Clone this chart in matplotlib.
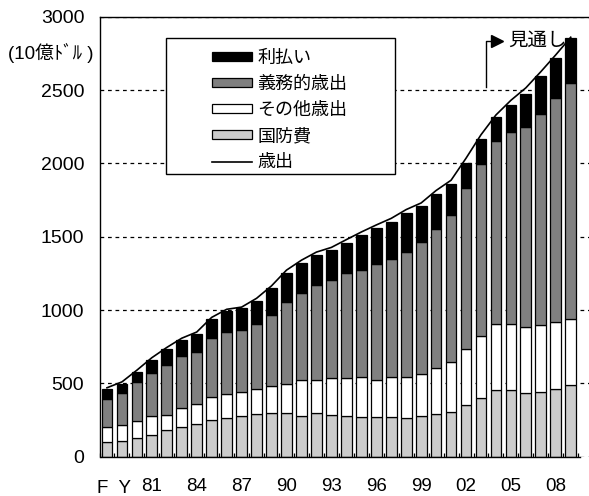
import numpy as np
import matplotlib
matplotlib.use("Agg")
import matplotlib.pyplot as plt
from matplotlib.patches import Patch, Rectangle
from matplotlib.lines import Line2D

plt.rcParams["font.family"] = ["Liberation Sans", "Noto Sans CJK JP", "DejaVu Sans"]

# fiscal years 1978-2009 (10億ドル)
years = list(range(1978, 2010))
defense = [98, 109, 127, 150, 182, 205, 223, 252, 264, 277, 289, 296, 296, 280, 296, 282,
           277, 268, 268, 268, 264, 280, 289, 307, 350, 400, 453, 453, 434, 443, 464, 487]
other = [107, 105, 118, 125, 102, 125, 136, 157, 166, 162, 175, 188, 198, 245, 229, 253,
         258, 275, 257, 275, 281, 284, 318, 339, 382, 423, 452, 452, 452, 453, 454, 452]
mandatory = [190, 222, 264, 298, 341, 357, 357, 402, 422, 423, 439, 482, 561, 593, 648, 668,
             720, 732, 791, 805, 853, 898, 945, 1002, 1102, 1175, 1250, 1311, 1360, 1443, 1526, 1611]
interest = [64, 62, 68, 86, 109, 109, 121, 130, 143, 150, 161, 182, 195, 205, 202, 206,
            204, 237, 243, 254, 266, 247, 239, 211, 171, 166, 161, 182, 227, 257, 274, 303]
outlays = [470, 510, 590, 675, 745, 808, 850, 950, 1005, 1020, 1080, 1165, 1272, 1340, 1395, 1427,
           1480, 1532, 1580, 1625, 1685, 1730, 1815, 1885, 2035, 2195, 2330, 2430, 2515, 2625, 2740, 2860]

tick_pos = [3, 6, 9, 12, 15, 18, 21, 24, 27, 30]
tick_labels = ["81", "84", "87", "90", "93", "96", "99", "02", "05", "08"]

labels = ["利払い", "義務的歳出", "その他歳出", "国防費", "歳出"]
colors = {"defense": "#cccccc", "other": "#ffffff", "mandatory": "#808080", "interest": "#000000"}

W, H = 589, 496
fig = plt.figure(figsize=(W / 100, H / 100), dpi=100)
ax = fig.add_axes([99.5 / W, 1 - 456.7 / H, (W - 99.5) / W, 440 / H])

x = np.arange(len(years))
d = np.array(defense)
o = np.array(other)
m = np.array(mandatory)
i = np.array(interest)

bw = 0.72
kw = dict(width=bw, edgecolor="black", linewidth=0.9, zorder=2)
ax.bar(x, d, color=colors["defense"], **kw)
ax.bar(x, o, bottom=d, color=colors["other"], **kw)
ax.bar(x, m, bottom=d + o, color=colors["mandatory"], **kw)
ax.bar(x, i, bottom=d + o + m, color=colors["interest"], **kw)
ax.plot(x, outlays, color="black", linewidth=1.2, zorder=3)

ax.set_xlim(-0.413, 32.22)
ax.set_ylim(0, 3000)
ax.set_yticks(range(0, 3001, 500))
ax.tick_params(axis="y", length=0, pad=11, labelsize=14)
ax.set_xticks(tick_pos)
ax.set_xticklabels(tick_labels)
ax.set_xticks(np.arange(-0.5, 32, 1), minor=True)
ax.tick_params(axis="x", which="major", length=0, pad=15.5, labelsize=13.5)
ax.tick_params(axis="x", which="minor", direction="in", length=3, width=0.9)
ax.text(0.5, -0.073, "F  Y", transform=ax.get_xaxis_transform(), ha="center", va="center", fontsize=13.5)

ax.yaxis.grid(True, linestyle=(0, (3, 3)), color="black", linewidth=0.9)
ax.set_axisbelow(True)
for s in ["left", "top", "bottom"]:
    ax.spines[s].set_linewidth(1.0)
ax.spines["right"].set_visible(False)
ax.spines["bottom"].set_bounds(-0.413, 31.62)

# forecast marker
ax.plot([25.33, 25.33, 25.7], [2521, 2834, 2834], color="black", linewidth=1.0, zorder=3)
ax.plot([26.1], [2834], marker=">", markersize=9, color="black", zorder=3)
ax.text(26.85, 2834, "見通し", ha="left", va="center", fontsize=14)

fig.text(8 / W, 1 - 53 / H, "(10億ﾄﾞﾙ )", ha="left", va="center", fontsize=13.5)

# legend box (white, hides the gridlines behind it)
fig.patches.append(Rectangle((165.7 / W, 1 - 174 / H), (395 - 165.7) / W, (174 - 38.3) / H,
                             transform=fig.transFigure, facecolor="white", edgecolor="black",
                             linewidth=1.0, zorder=4))
handles = [Patch(facecolor=colors["interest"], edgecolor="black", linewidth=0.9),
           Patch(facecolor=colors["mandatory"], edgecolor="black", linewidth=0.9),
           Patch(facecolor=colors["other"], edgecolor="black", linewidth=0.9),
           Patch(facecolor=colors["defense"], edgecolor="black", linewidth=0.9),
           Line2D([], [], color="black", linewidth=1.2)]
leg = fig.legend(handles, labels, loc="upper left", bbox_to_anchor=(212 / W, 1 - 50 / H),
                 frameon=False, fontsize=13, handlelength=2.2, handleheight=0.42,
                 handletextpad=0.3, labelspacing=0.5, borderpad=0, borderaxespad=0)
leg.set_zorder(6)

fig.savefig("out.png", dpi=100)
